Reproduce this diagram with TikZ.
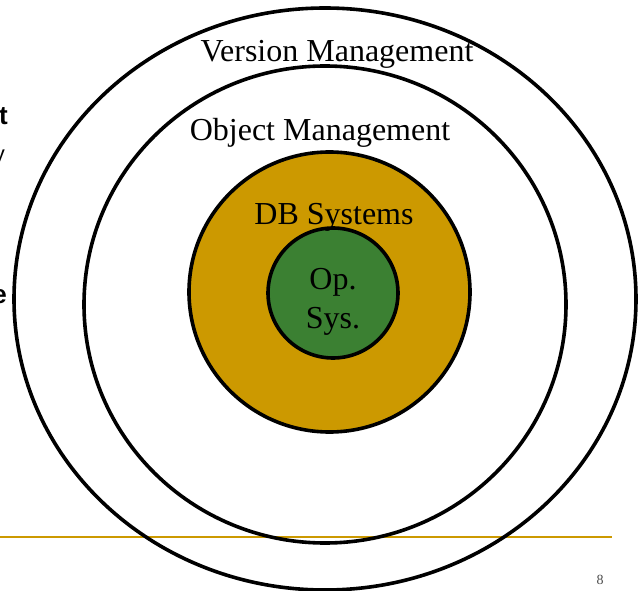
\documentclass[tikz,border=0pt]{standalone}
\usepackage{fontspec}
\setmainfont{Liberation Serif}
\newfontfamily\slidesans{Liberation Sans}
\usetikzlibrary{shapes.geometric}
\definecolor{dbgold}{RGB}{204,153,0}
\definecolor{osgreen}{RGB}{59,128,50}

\begin{document}
\begin{tikzpicture}[x=1pt,y=-1pt,
  ring/.style={ellipse, draw=black, line width=3.6pt, inner sep=0pt, outer sep=0pt},
  lbl/.style={font=\fontsize{32}{38}\selectfont, inner sep=0pt, anchor=base},
  frag/.style={font=\slidesans\bfseries\fontsize{26}{28}\selectfont, inner sep=0pt, anchor=base east},
  rulestyle/.style={draw=dbgold, line width=2pt}]
\useasboundingbox (0,0) rectangle (638,591);
\clip (0,0) rectangle (638,591);

% slide text running off the left edge
\node[frag] (fragt) at (8,125) {t};
\node[frag, font=\slidesans\fontsize{22}{24}\selectfont] (fragy) at (5,162) {y};
\node[frag] (frage) at (7,303) {e};

% footer rule
\coordinate (ruleL) at (0,537);
\coordinate (ruleR) at (612,537);
\draw[rulestyle] (ruleL) -- (ruleR);

% nested layers
\node[ring, minimum width=622pt, minimum height=582pt] (version) at (325,299) {};
\node[ring, minimum width=482pt, minimum height=477pt] (object) at (325,304.5) {};
\node[ring, fill=dbgold, minimum width=281pt, minimum height=280pt] (db) at (329.5,292) {};
\node[ring, fill=osgreen, minimum width=130pt, minimum height=130pt] (os) at (333,293) {};

% layer labels
\node[lbl] (versionlbl) at (337,62) {Version Management};
\node[lbl] (objectlbl) at (320,141) {Object Management};
\node[lbl] (dblbl) at (334,225) {DB Systems};
\node[lbl] (oslbl1) at (333,290) {Op.};
\node[lbl] (oslbl2) at (333,328) {Sys.};

% page number
\node[inner sep=0pt, anchor=base, text=black!70, font=\fontsize{14}{15}\selectfont] (pagenum) at (600,584) {8};
\end{tikzpicture}
\end{document}
